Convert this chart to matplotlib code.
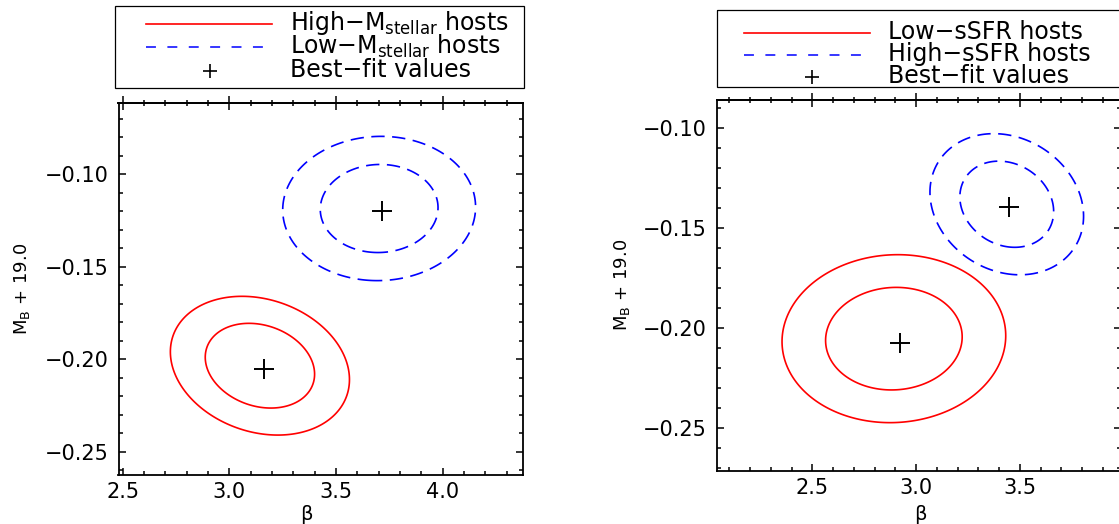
import numpy as np
import matplotlib
matplotlib.use('Agg')
import matplotlib.pyplot as plt
from matplotlib.lines import Line2D
from matplotlib.patches import Rectangle
from matplotlib.ticker import MultipleLocator, FuncFormatter
import matplotlib.transforms as mtransforms

# delta chi2 for two parameters (68.3% and 95.4%)
levels = [2.30, 6.17]

# left panel : split on host stellar mass  (red = high, blue = low)
mass_labels = ['High\u2212M$_{\\rm stellar}$ hosts', 'Low\u2212M$_{\\rm stellar}$ hosts']
mass_beta_best = [3.162, 3.716]
mass_mb_best = [-0.2054, -0.1199]
mass_beta_mid = [3.143, 3.702]
mass_mb_mid = [-0.2035, -0.1185]
mass_beta_sig = [0.169, 0.182]
mass_mb_sig = [0.0151, 0.0157]
mass_rho = [-0.20, 0.02]

# right panel : split on host sSFR  (red = low, blue = high)
ssfr_labels = ['Low\u2212sSFR hosts', 'High\u2212sSFR hosts']
ssfr_beta_best = [2.923, 3.449]
ssfr_mb_best = [-0.2072, -0.1392]
ssfr_beta_mid = [2.893, 3.437]
ssfr_mb_mid = [-0.2052, -0.1380]
ssfr_beta_sig = [0.217, 0.149]
ssfr_mb_sig = [0.0169, 0.0142]
ssfr_rho = [0.035, -0.17]

best_label = 'Best\u2212fit values'

W, H = 1119, 524
plt.rcParams['lines.dashed_pattern'] = [8, 4.5]
plt.rcParams['mathtext.fontset'] = 'dejavusans'

fig = plt.figure(figsize=(W / 100, H / 100), dpi=100)
# pixel coordinates measured from the top left corner
pix = mtransforms.Affine2D().scale(1.0 / W, -1.0 / H).translate(0, 1) + fig.transFigure


def px_axes(x0, y0, x1, y1):
    return [x0 / W, 1 - y1 / H, (x1 - x0) / W, (y1 - y0) / H]


def fmt(nd):
    return FuncFormatter(lambda v, p: ('%.*f' % (nd, v)).replace('-', '\u2212'))


def chi2(bb, mm, b0, m0, sb, sm, rho):
    db = (bb - b0) / sb
    dm = (mm - m0) / sm
    return (db ** 2 - 2 * rho * db * dm + dm ** 2) / (1 - rho ** 2)


def panel(rect, xlim, ylim, b_mid, m_mid, sb, sm, rho, b_best, m_best, ylab_x, xlab_xy):
    ax = fig.add_axes(px_axes(*rect))
    bb, mm = np.meshgrid(np.linspace(xlim[0], xlim[1], 600),
                         np.linspace(ylim[0], ylim[1], 600))
    for i, (col, ls) in enumerate([('#ff0000', 'solid'), ('#0000ff', 'dashed')]):
        z = chi2(bb, mm, b_mid[i], m_mid[i], sb[i], sm[i], rho[i])
        ax.contour(bb, mm, z, levels=levels, colors=col, linewidths=1.2, linestyles=ls)
        ax.plot(b_best[i], m_best[i], '+', color='k', ms=15, mew=1.4)
    ax.set_xlim(*xlim)
    ax.set_ylim(*ylim)
    ax.xaxis.set_major_locator(MultipleLocator(0.5))
    ax.xaxis.set_minor_locator(MultipleLocator(0.1))
    ax.yaxis.set_major_locator(MultipleLocator(0.05))
    ax.yaxis.set_minor_locator(MultipleLocator(0.01))
    ax.tick_params(which='both', direction='in', top=False, right=True, width=1.1,
                   labelsize=15)
    ax.tick_params(which='major', length=5.3)
    ax.tick_params(which='minor', length=3)
    ax.tick_params(axis='x', pad=5.4)
    ax.tick_params(axis='y', pad=7.3)
    ax.yaxis.set_major_formatter(fmt(2))
    ax.xaxis.set_major_formatter(fmt(1))
    for s in ax.spines.values():
        s.set_linewidth(1.3)
    # top axis ticks cross the frame
    top = ax.secondary_xaxis('top')
    top.xaxis.set_major_locator(MultipleLocator(0.5))
    top.xaxis.set_minor_locator(MultipleLocator(0.1))
    top.tick_params(which='both', direction='inout', labeltop=False, width=1.1)
    top.tick_params(which='major', length=10)
    top.tick_params(which='minor', length=5)
    top.spines['top'].set_linewidth(1.3)

    ax.set_ylabel('M$_{\\rm B}$ + 19.0', fontsize=13)
    ax.yaxis.label.set_va('center')
    ax.yaxis.set_label_coords(ylab_x, 0.5)
    ax.set_xlabel('\u03b2', fontsize=14)
    ax.xaxis.label.set_va('center')
    ax.xaxis.set_label_coords(*xlab_xy)
    return ax


def key(box, line_x, plus_x, text_x, line_y, plus_y, base_y, labels):
    fig.add_artist(Rectangle((box[0], box[1]), box[2] - box[0], box[3] - box[1],
                             transform=pix, fill=False, lw=0.9, ec='k'))
    fig.add_artist(Line2D(line_x, [line_y[0]] * 2, transform=pix, color='#ff0000', lw=1.2))
    fig.add_artist(Line2D(line_x, [line_y[1]] * 2, transform=pix, color='#0000ff', lw=1.1,
                          dashes=(6.5, 7.5)))
    fig.add_artist(Line2D([plus_x], [plus_y], transform=pix, marker='+', color='k',
                          ms=10, mew=1.2, ls='none'))
    for lab, y in zip(labels + [best_label], base_y):
        fig.text(text_x, y, lab, transform=pix, fontsize=17, va='baseline', ha='left')


panel((118.5, 102.7, 522.7, 475.0), (2.480, 4.375), (-0.2626, -0.0613),
      mass_beta_mid, mass_mb_mid, mass_beta_sig, mass_mb_sig, mass_rho,
      mass_beta_best, mass_mb_best, -0.2387, (0.4656, -0.1048))
panel((717.3, 100.0, 1121.3, 470.7), (2.042, 3.989), (-0.2712, -0.0859),
      ssfr_beta_mid, ssfr_mb_mid, ssfr_beta_sig, ssfr_mb_sig, ssfr_rho,
      ssfr_beta_best, ssfr_mb_best, -0.236, (0.5017, -0.1195))

key((115, 6.4, 524.3, 87.9), (146, 272), 210, 290, (24.3, 46.8), 71.4,
    (30.4, 53.6, 76.8), mass_labels)
key((716.9, 10.0, 1130, 86.6), (743.6, 870), 812.4, 888, (33.0, 54.5), 76.6,
    (39.2, 61.3, 82.7), ssfr_labels)

fig.savefig('out.png', dpi=100)
